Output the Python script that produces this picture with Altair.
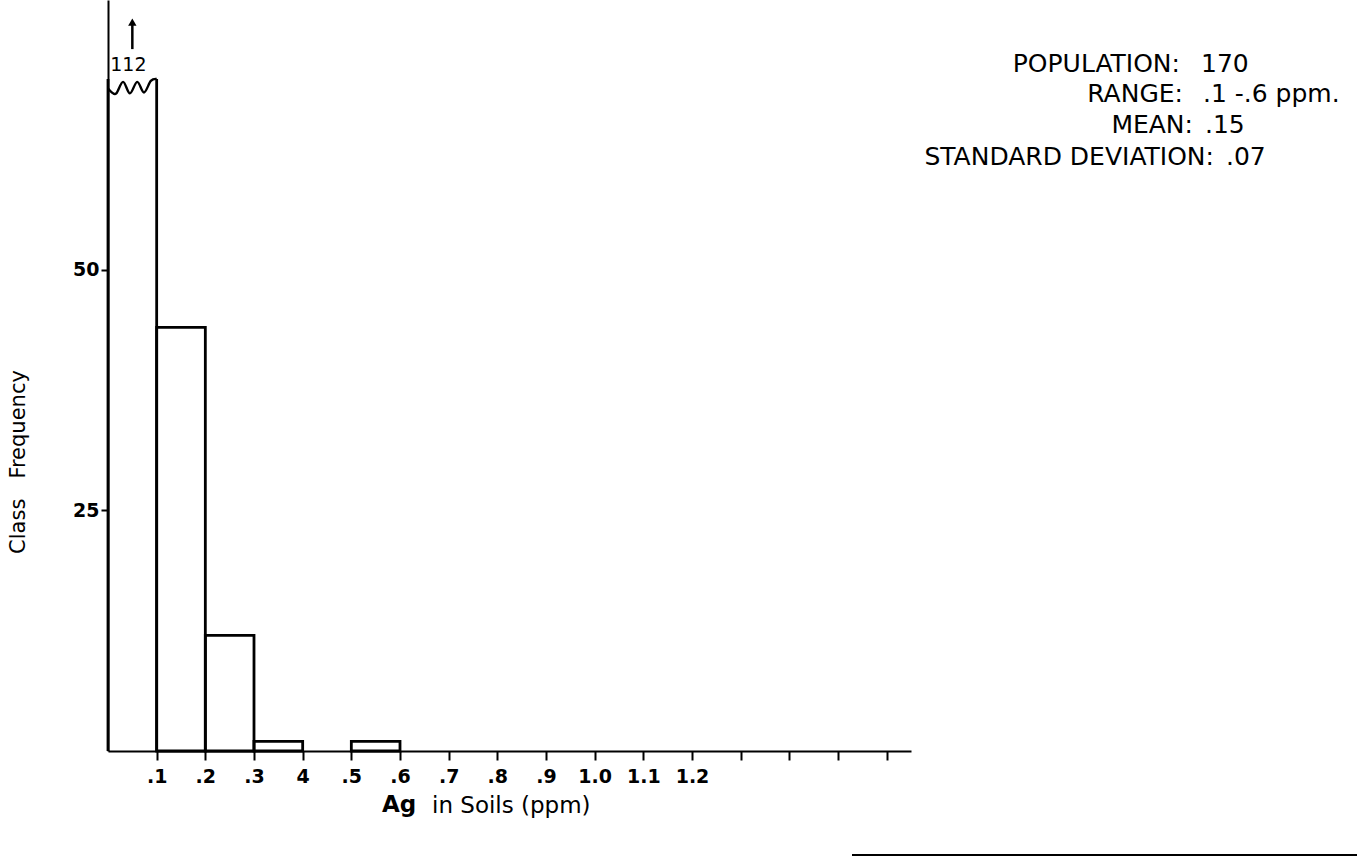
import altair as alt
import pandas as pd

# Class intervals of Ag in soils (ppm) and their frequencies
BIN_LO = [0.0, 0.1, 0.2, 0.3, 0.4, 0.5]
BIN_HI = [0.1, 0.2, 0.3, 0.4, 0.5, 0.6]
COUNTS = [112, 44, 12, 1, 0, 1]

# Axis ticks and their printed labels
X_TICKS = [0.1, 0.2, 0.3, 0.4, 0.5, 0.6, 0.7, 0.8, 0.9, 1.0, 1.1, 1.2, 1.3, 1.4, 1.5, 1.6]
X_TICK_LABELS = [".1", ".2", ".3", "4", ".5", ".6", ".7", ".8", ".9", "1.0", "1.1", "1.2", "", "", "", ""]
Y_TICKS = [25, 50]

# Summary statistics block
STAT_NAMES = ["POPULATION:", "RANGE:", "MEAN:", "STANDARD DEVIATION:"]
STAT_VALUES = ["170", ".1 -.6 ppm.", ".15", ".07"]

X_TITLE_BOLD = "Ag"
X_TITLE_REST = "in Soils (ppm)"
Y_TITLE = "Class\u00a0\u00a0\u00a0Frequency"

# Frequency level at which an off-scale bar is cut with a wavy break line
BREAK_LEVEL = 69.8
# Shape of the break line: fraction across the bar / drop below the break level
WAVE_FRAC = [0.0, 0.08, 0.17, 0.31, 0.45, 0.6, 0.74, 0.88, 1.0]
WAVE_DROP = [1.0, 1.4, 1.5, 0.3, 1.5, 0.3, 1.4, 0.2, 0.0]

# ---- layout ----
W, H = 803, 751
PAD_L, PAD_T = 108, 0
X_MAX, Y_MAX = 1.65, 78.0
FONT = "DejaVu Sans"
INK = "#000000"

bins = pd.DataFrame({"lo": BIN_LO, "hi": BIN_HI, "count": COUNTS})
bins["shown"] = bins["count"].clip(upper=BREAK_LEVEL)
bins["mid"] = (bins["lo"] + bins["hi"]) / 2
bins["label"] = bins["count"].astype(str)
bins["arrow_lo"] = BREAK_LEVEL + 3.1
bins["arrow_hi"] = BREAK_LEVEL + 5.6
bins["head"] = BREAK_LEVEL + 5.9
bins["label_y"] = BREAK_LEVEL + 1.5

cut = bins[bins["count"] > BREAK_LEVEL]
regular = bins[(bins["count"] > 0) & (bins["count"] <= BREAK_LEVEL)]

wave_rows = []
for _, b in cut.iterrows():
    for f, d in zip(WAVE_FRAC, WAVE_DROP):
        wave_rows.append({"x": b["lo"] + f * (b["hi"] - b["lo"]), "y": BREAK_LEVEL - d, "order": f})
wave = pd.DataFrame(wave_rows)

x_scale = alt.Scale(domain=[0, X_MAX], nice=False, zero=False)
y_scale = alt.Scale(domain=[0, Y_MAX], nice=False)

label_expr = "[" + ",".join("'%s'" % s for s in X_TICK_LABELS) + "][round(datum.value * 10) - 1]"

X_AX = alt.Axis(
    values=X_TICKS, labelExpr=label_expr, title="", grid=False,
    domainColor=INK, domainWidth=2, tickColor=INK, tickWidth=2, tickSize=9,
    labelColor=INK, labelFont=FONT, labelFontSize=19, labelFontWeight="bold",
    labelPadding=7, labelFlush=False, labelOverlap=False,
)
Y_AX = alt.Axis(
    values=Y_TICKS, title="", grid=False,
    domainColor=INK, domainWidth=2, tickColor=INK, tickWidth=2, tickSize=7,
    labelColor=INK, labelFont=FONT, labelFontSize=19, labelFontWeight="bold",
    labelPadding=2, labelFlush=False,
)

# Outlined histogram bars
bars = alt.Chart(regular).mark_rect(filled=False, stroke=INK, strokeWidth=2.8).encode(
    x=alt.X("lo:Q", scale=x_scale, axis=X_AX),
    x2="hi:Q",
    y=alt.Y("shown:Q", scale=y_scale, axis=Y_AX),
    y2=alt.datum(0),
)

# Off-scale bar: two sides up to the break, a wavy top, an arrow and its true count
cut_sides_r = alt.Chart(cut).mark_rule(color=INK, strokeWidth=2.8).encode(
    x=alt.X("hi:Q", scale=x_scale, axis=X_AX),
    y=alt.Y("shown:Q", scale=y_scale, axis=Y_AX),
    y2=alt.datum(0),
)
cut_sides_l = alt.Chart(cut).mark_rule(color=INK, strokeWidth=2.8).encode(
    x=alt.X("lo:Q", scale=x_scale, axis=X_AX),
    y=alt.Y("shown:Q", scale=y_scale, axis=Y_AX),
    y2=alt.datum(0),
)
wave_line = alt.Chart(wave).mark_line(color=INK, strokeWidth=2.4, interpolate="cardinal").encode(
    x=alt.X("x:Q", scale=x_scale, axis=X_AX),
    y=alt.Y("y:Q", scale=y_scale, axis=Y_AX),
    order="order:Q",
)
arrow_shaft = alt.Chart(cut).mark_rule(color=INK, strokeWidth=2.5).encode(
    x=alt.X("mid:Q", scale=x_scale, axis=X_AX),
    y=alt.Y("arrow_lo:Q", scale=y_scale, axis=Y_AX),
    y2="arrow_hi:Q",
)
arrow_head = alt.Chart(cut).mark_point(shape="triangle-up", filled=True, color=INK, size=70, opacity=1).encode(
    x=alt.X("mid:Q", scale=x_scale, axis=X_AX),
    y=alt.Y("head:Q", scale=y_scale, axis=Y_AX),
)
count_label = alt.Chart(cut).mark_text(font=FONT, fontSize=19, color=INK, dx=-4, baseline="middle").encode(
    x=alt.X("mid:Q", scale=x_scale, axis=X_AX),
    y=alt.Y("label_y:Q", scale=y_scale, axis=Y_AX),
    text="label:N",
)

# Statistics block: right-aligned names, left-aligned values (pixel layout)
NAME_RIGHT = [1180, 1183, 1193, 1214]
VALUE_LEFT = [1201, 1203, 1205, 1226]
ROW_Y = [64, 94, 125, 157]
stats = pd.DataFrame({
    "name": STAT_NAMES, "value": STAT_VALUES,
    "nx": [v - PAD_L for v in NAME_RIGHT], "vx": [v - PAD_L for v in VALUE_LEFT],
    "py": [v - PAD_T for v in ROW_Y],
})
stat_names = alt.Chart(stats).mark_text(font=FONT, fontSize=25, color=INK, align="right", baseline="middle").encode(
    x=alt.X("nx:Q", scale=None, axis=None), y=alt.Y("py:Q", scale=None, axis=None), text="name:N",
)
stat_values = alt.Chart(stats).mark_text(font=FONT, fontSize=25, color=INK, align="left", baseline="middle").encode(
    x=alt.X("vx:Q", scale=None, axis=None), y=alt.Y("py:Q", scale=None, axis=None), text="value:N",
)

one = pd.DataFrame({"k": [0]})
x_title_a = alt.Chart(one).mark_text(font=FONT, fontSize=23, fontWeight="bold", color=INK, align="left", baseline="middle").encode(
    x=alt.value(382 - PAD_L), y=alt.value(805 - PAD_T), text=alt.value(X_TITLE_BOLD),
)
x_title_b = alt.Chart(one).mark_text(font=FONT, fontSize=23, color=INK, align="left", baseline="middle").encode(
    x=alt.value(432 - PAD_L), y=alt.value(806 - PAD_T), text=alt.value(X_TITLE_REST),
)
y_title = alt.Chart(one).mark_text(font=FONT, fontSize=21, color=INK, angle=270, align="center", baseline="middle").encode(
    x=alt.value(19 - PAD_L), y=alt.value(462 - PAD_T), text=alt.value(Y_TITLE),
)
footer_rule = alt.Chart(one).mark_rule(color=INK, strokeWidth=2).encode(
    x=alt.value(852 - PAD_L), x2=alt.value(1357 - PAD_L), y=alt.value(855 - PAD_T),
)

chart = alt.layer(
    bars, cut_sides_l, cut_sides_r, wave_line, arrow_shaft, arrow_head, count_label,
    stat_names, stat_values, x_title_a, x_title_b, y_title, footer_rule,
).properties(
    width=W, height=H,
    autosize=alt.AutoSizeParams(type="none"),
    padding={"left": PAD_L, "top": PAD_T, "right": 1357 - PAD_L - W, "bottom": 860 - PAD_T - H},
    background="white",
).configure_view(strokeWidth=0)

chart.save("out.html", embed_options={"renderer": "svg", "actions": False})
